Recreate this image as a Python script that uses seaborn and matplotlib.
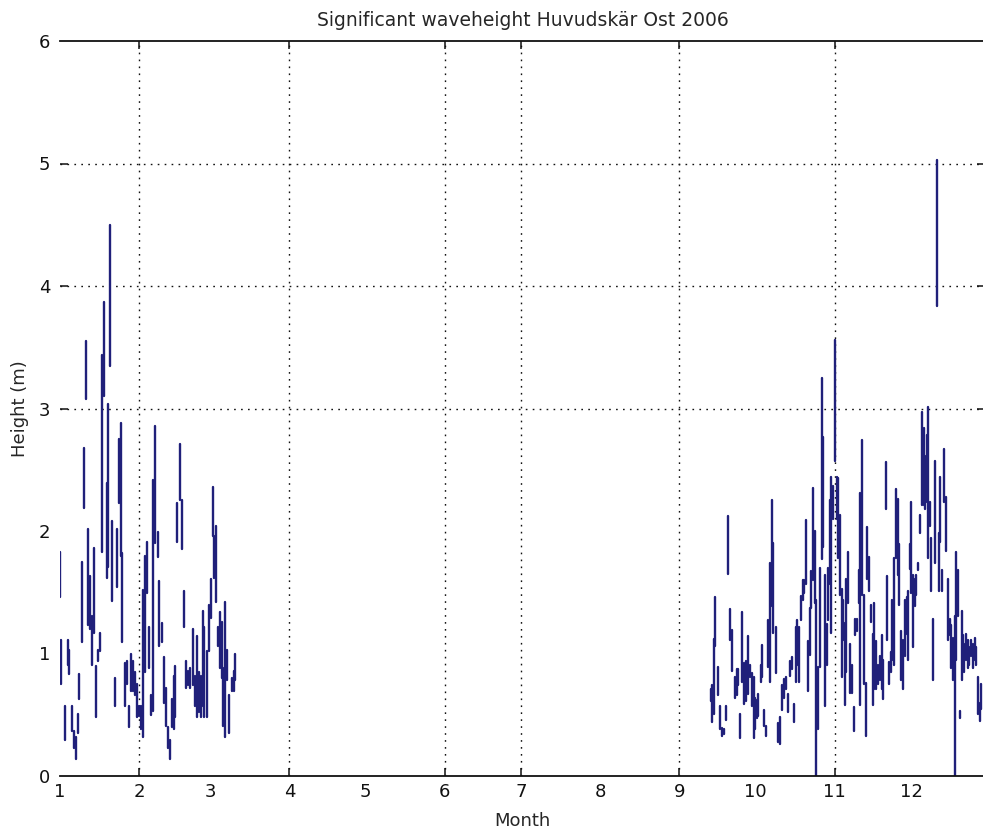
import numpy as np
import pandas as pd
import matplotlib
matplotlib.use("Agg")
import matplotlib.pyplot as plt
import seaborn as sns

# Each burst of hourly readings shows up as a short vertical stroke:
# day of year, lowest and highest significant wave height (m) in the burst.
winter_day = [1.0, 1.3, 3.0, 4.3, 4.6, 5.7, 6.6, 7.3, 8.0, 8.6,
              9.7, 10.4, 11.3, 12.1, 12.6, 13.4, 14.2, 15.3, 16.1, 16.8,
              17.6, 18.4, 19.3, 20.0, 20.8, 21.6, 22.4, 23.3, 24.1, 24.8,
              25.5, 26.7, 27.3, 28.1, 28.9, 29.7, 30.4, 31.3, 32.1, 32.9,
              33.7, 34.3, 35.1, 36.0, 36.8, 37.6, 38.4, 39.3, 40.0, 41.0,
              41.8, 42.6, 43.4, 44.0, 45.0, 45.8, 46.3, 47.1, 48.2, 49.0,
              49.8, 50.4, 51.4, 52.2, 53.0, 53.8, 54.6, 55.4, 56.2, 57.0,
              57.7, 58.6, 59.4, 60.2, 60.9, 61.5, 62.2, 63.0, 63.7, 64.5,
              65.1, 65.8, 66.7, 67.5, 68.5, 69.1, 69.8]
winter_low = [1.46, 0.75, 0.29, 0.91, 0.83, 0.37, 0.23, 0.14, 0.35, 0.63,
              1.09, 2.19, 3.08, 1.23, 1.20, 0.91, 1.17, 0.48, 0.94, 1.02,
              1.83, 3.10, 1.62, 1.71, 3.35, 1.43, 0.57, 1.54, 2.23, 1.80,
              1.09, 0.57, 0.75, 0.40, 0.69, 0.69, 0.66, 0.48, 0.49, 0.38,
              0.32, 0.85, 1.49, 0.88, 0.50, 0.53, 1.90, 1.79, 1.06, 1.09,
              0.60, 0.41, 0.23, 0.14, 0.40, 0.38, 0.48, 1.91, 2.25, 1.85,
              1.22, 0.72, 0.74, 0.72, 0.74, 0.57, 0.48, 0.52, 0.48, 0.57,
              0.48, 0.48, 1.02, 1.29, 1.96, 1.62, 1.42, 1.06, 0.88, 0.80,
              0.41, 0.32, 0.78, 0.35, 0.69, 0.69, 0.78]
winter_high = [1.83, 1.11, 0.57, 1.11, 1.03, 0.57, 0.37, 0.32, 0.51, 0.83,
               1.75, 2.68, 3.55, 2.02, 1.63, 1.31, 1.86, 0.90, 1.03, 1.17,
               3.44, 3.87, 2.39, 3.04, 4.50, 2.08, 0.80, 2.02, 2.75, 2.88,
               1.82, 0.92, 0.94, 0.57, 1.00, 0.94, 0.85, 0.75, 0.57, 0.57,
               1.52, 1.80, 1.91, 1.22, 0.66, 2.42, 2.86, 1.99, 1.59, 1.25,
               0.97, 0.72, 0.40, 0.29, 0.63, 0.82, 0.90, 2.23, 2.71, 2.25,
               1.51, 0.94, 0.86, 0.88, 1.20, 0.82, 1.14, 0.85, 0.82, 1.35,
               1.22, 1.02, 1.40, 1.61, 2.36, 1.96, 2.04, 1.22, 1.34, 1.26,
               0.88, 1.42, 1.03, 0.66, 0.80, 0.86, 1.00]

autumn_day = [256.3, 257.0, 257.6, 258.2, 259.3, 260.1, 260.8, 261.5, 262.4, 263.3,
              264.1, 264.9, 265.8, 266.6, 267.2, 268.0, 268.8, 269.6, 270.3, 271.1,
              271.8, 272.5, 273.2, 273.8, 274.5, 275.1, 275.9, 276.6, 277.2, 278.0,
              279.0, 279.7, 280.3, 281.0, 281.8, 282.7, 283.5, 284.2, 285.0, 285.8,
              286.6, 287.4, 288.1, 288.9, 289.7, 290.3, 291.0, 291.6, 292.4, 293.1,
              293.7, 294.4, 295.2, 295.9, 296.6, 297.2, 297.7, 298.4, 299.2, 300.0,
              300.6, 301.3, 301.9, 302.4, 303.1, 303.7, 304.5, 305.2, 305.8,
              306.2, 307.1, 307.7, 308.3, 309.0, 309.6, 310.3, 311.0, 311.7, 312.4,
              313.1, 313.7, 314.4, 315.0, 315.8, 316.4, 317.2, 317.8, 318.5, 319.2,
              319.9, 320.5, 321.4, 322.1, 322.7, 323.5, 324.1, 325.0, 325.6, 326.4,
              327.1, 327.7, 328.3, 329.0, 329.8, 330.4, 331.2, 331.8, 332.6, 333.2,
              333.9, 334.5, 335.0, 335.8, 336.4, 337.1, 337.7, 338.5, 339.2, 339.9,
              340.6, 341.3, 341.8, 342.3, 343.0, 343.7, 344.4, 345.0, 345.8, 346.5,
              347.3, 348.1, 348.7, 349.5, 350.1, 350.8, 351.5, 352.1, 352.7, 353.5,
              354.1, 354.8, 355.4, 355.9, 356.5, 357.2, 357.8, 358.5, 359.1, 359.9,
              360.5, 361.3, 361.9, 362.6]
autumn_low = [0.61, 0.44, 0.51, 1.06, 0.66, 0.38, 0.33, 0.34, 0.46, 1.65,
              1.11, 0.86, 0.64, 0.66, 0.74, 0.31, 0.77, 0.59, 0.61, 0.67,
              0.81, 0.57, 0.31, 0.38, 0.47, 0.49, 0.77, 0.81, 0.41, 0.33,
              0.89, 0.77, 1.39, 1.17, 0.84, 0.28, 0.26, 0.54, 0.64, 0.71,
              0.52, 0.82, 0.87, 0.44, 0.77, 0.91, 0.77, 1.27, 1.44, 1.49,
              1.57, 0.69, 0.99, 1.37, 1.60, 1.41, 0.00, 0.38, 0.89, 1.77,
              1.87, 0.57, 0.91, 1.27, 1.57, 1.17, 2.10, 2.57, 2.10,
              1.78, 1.48, 0.81, 1.11, 0.58, 0.85, 1.41, 0.68, 0.68, 0.37,
              1.15, 1.18, 1.41, 0.58, 1.48, 0.75, 0.33, 1.61, 1.51, 1.26,
              0.58, 0.71, 0.71, 0.75, 0.78, 0.71, 0.63, 2.18, 1.11, 0.75,
              0.85, 0.95, 0.91, 1.78, 1.64, 1.40, 0.78, 0.71, 0.98, 1.16,
              0.95, 1.69, 1.49, 1.05, 1.39, 1.48, 1.68, 1.98, 2.21, 2.21,
              2.18, 2.24, 1.78, 2.04, 1.51, 0.78, 1.74, 3.84, 1.51, 1.91,
              1.51, 2.24, 1.84, 1.11, 1.15, 0.88, 0.78, 0.00, 0.95, 1.31,
              0.47, 0.78, 0.98, 0.85, 0.95, 0.88, 0.91, 0.98, 0.88, 0.95,
              0.91, 0.51, 0.45, 0.55]
autumn_high = [0.71, 0.74, 1.12, 1.46, 0.89, 0.57, 0.39, 0.38, 0.57, 2.12,
               1.36, 1.19, 0.81, 0.87, 0.87, 0.51, 1.34, 0.92, 0.94, 1.14,
               0.91, 0.84, 0.81, 0.64, 0.62, 0.67, 0.91, 1.07, 0.54, 0.41,
               1.27, 1.74, 2.25, 1.90, 1.22, 0.43, 0.48, 0.74, 0.79, 0.81,
               0.67, 0.94, 0.97, 0.59, 1.22, 1.27, 1.22, 1.47, 1.60, 1.60,
               2.09, 1.10, 1.37, 1.67, 2.35, 2.00, 1.44, 0.89, 1.70, 3.25,
               2.77, 1.64, 1.24, 1.70, 2.25, 2.44, 2.37, 3.56, 2.44,
               2.43, 2.13, 1.53, 1.44, 1.25, 1.61, 1.83, 1.08, 0.91, 0.56,
               1.28, 1.28, 1.68, 2.31, 2.74, 1.48, 0.76, 2.03, 1.79, 1.40,
               1.16, 1.41, 1.10, 0.91, 0.98, 1.15, 0.95, 2.56, 1.63, 0.93,
               1.01, 1.44, 1.78, 2.34, 2.26, 1.89, 1.18, 1.11, 1.44, 1.46,
               1.51, 1.89, 2.24, 1.64, 1.61, 1.64, 1.74, 2.13, 2.97, 2.84,
               2.61, 2.78, 3.01, 2.24, 1.94, 1.28, 2.57, 5.03, 1.98, 2.44,
               1.68, 2.67, 2.28, 1.61, 1.28, 1.23, 1.13, 1.31, 1.83, 1.68,
               0.53, 1.35, 1.15, 1.08, 1.16, 1.11, 1.05, 1.11, 1.08, 1.13,
               1.05, 0.81, 0.60, 0.75]

month_start = [1, 32, 60, 91, 121, 152, 182, 213, 244, 274, 305, 335]
month_label = ["1", "2", "3", "4", "5", "6", "7", "8", "9", "10", "11", "12"]
grid_months = [2, 4, 6, 7, 9, 11]
height_ticks = [0, 1, 2, 3, 4, 5, 6]
grid_heights = [3, 4, 5]

# long format: one row per end of each stroke
days = np.concatenate([winter_day, autumn_day])
lows = np.concatenate([winter_low, autumn_low])
highs = np.concatenate([winter_high, autumn_high])
waves = pd.DataFrame({
    "day": np.repeat(days, 2),
    "height": np.column_stack([lows, highs]).ravel(),
    "burst": np.repeat(np.arange(len(days)), 2),
})

sns.set_style("white")
plt.rcParams["font.family"] = ["DejaVu Sans"]

fig = plt.figure(figsize=(9.83, 8.35), dpi=100)
ax = fig.add_axes([60 / 983, 59 / 835, 925 / 983, 735 / 835])

sns.lineplot(data=waves, x="day", y="height", units="burst", estimator=None,
             sort=False, color="#20207a", linewidth=1.7, legend=False, ax=ax)

ax.set_xlim(1, 364)
ax.set_ylim(0, 6)

# labels on every month / metre, but grid + tick marks only where the
# original still shows them
ax.xaxis.remove_overlapping_locs = False
ax.yaxis.remove_overlapping_locs = False
ax.set_xticks(month_start)
ax.set_xticklabels(month_label)
ax.set_xticks([month_start[m - 1] for m in grid_months], minor=True)
ax.set_yticks(height_ticks)
ax.set_yticks(grid_heights, minor=True)

ax.tick_params(which="major", length=0, labelsize=13, colors="#111111")
ax.tick_params(axis="x", which="major", pad=5)
ax.tick_params(axis="y", which="major", pad=7)
ax.tick_params(which="minor", direction="in", length=6, width=1.1, color="#111111",
               top=True, bottom=True, left=True, right=True)
ax.grid(False, which="major")
ax.grid(True, which="minor", color="#111111", linestyle=(0, (1.2, 3.8)), linewidth=1.0)

for side in ["left", "right"]:
    ax.spines[side].set_visible(False)
for side in ["top", "bottom"]:
    ax.spines[side].set_color("#111111")
    ax.spines[side].set_linewidth(1.3)

ax.set_title("Significant waveheight Huvudskär Ost 2006", fontsize=13.5, pad=11)
ax.set_xlabel("Month", fontsize=13)
ax.set_ylabel("Height (m)", fontsize=13)
ax.xaxis.set_label_coords(0.5, -0.049)
ax.yaxis.set_label_coords(-0.034, 0.5)

fig.savefig("out.png", dpi=100)
